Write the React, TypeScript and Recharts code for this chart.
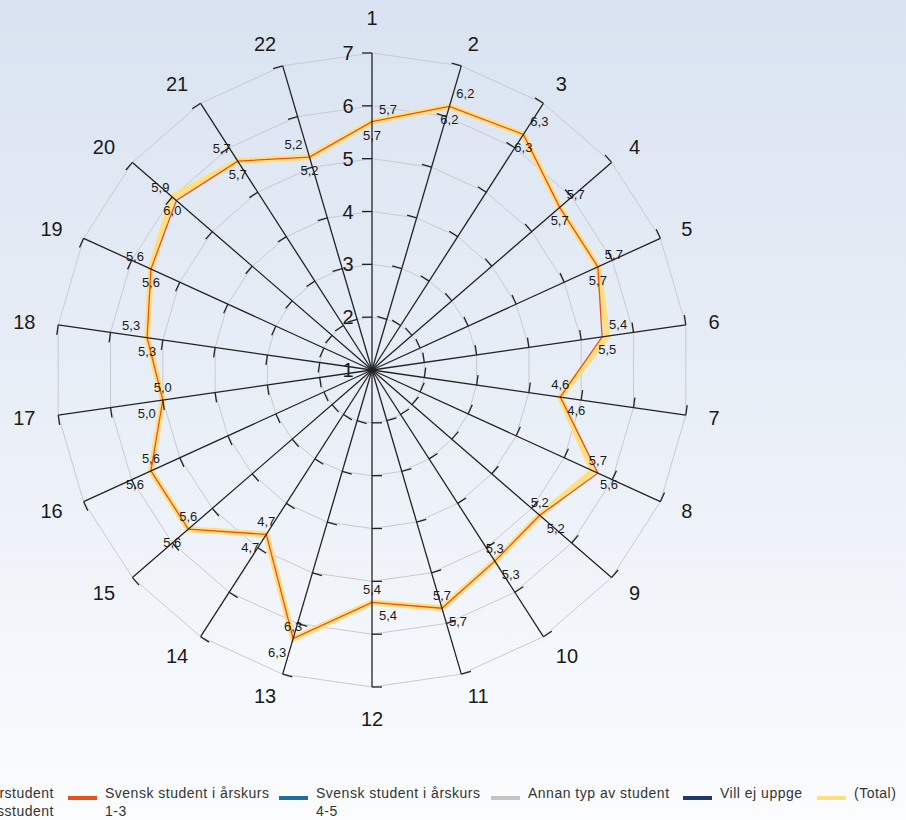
import React from 'react';
import { RadarChart, Radar, PolarGrid, PolarAngleAxis, PolarRadiusAxis } from 'recharts';

const categories = ['1', '2', '3', '4', '5', '6', '7', '8', '9', '10', '11', '12', '13', '14', '15', '16', '17', '18', '19', '20', '21', '22'];
const svenskStudent13 = [5.7, 6.2, 6.3, 5.7, 5.7, 5.4, 4.6, 5.7, 5.2, 5.3, 5.7, 5.4, 6.3, 4.7, 5.6, 5.6, 5.0, 5.3, 5.6, 5.9, 5.7, 5.2];
const totalValues = [5.7, 6.2, 6.3, 5.7, 5.7, 5.5, 4.6, 5.6, 5.2, 5.3, 5.7, 5.4, 6.3, 4.7, 5.6, 5.6, 5.0, 5.3, 5.6, 6.0, 5.7, 5.2];
const radiusDomain = [1, 7];
const radiusTicks = [1, 2, 3, 4, 5, 6, 7];

const legendItems = [
  { lines: ['Forskarstudent', 'Utbytesstudent'], color: '#7f7f7f', clipped: true },
  { lines: ['Svensk student i årskurs', '1-3'], color: '#e8501e' },
  { lines: ['Svensk student i årskurs', '4-5'], color: '#1f6f9c' },
  { lines: ['Annan typ av student'], color: '#c4c4c4' },
  { lines: ['Vill ej uppge'], color: '#1f3a6b' },
  { lines: ['(Total)'], color: '#ffdf80' },
];
const legendX = [-120, 68, 279, 491, 683, 817];

const CX = 372;
const CY = 370;
const OUTER = 317;

const data = categories.map((c, i) => ({ axis: c, s13: svenskStudent13[i], total: totalValues[i] }));

const FONT = '"Liberation Sans", Arial, sans-serif';
const fmt = (v: number) => v.toFixed(1).replace('.', ',');

const radiusTick = (props: any) => {
  const { x, y, payload } = props;
  const v = payload?.value;
  const n = categories.length;
  return (
    <g>
      {categories.map((c, k) => (
        <g key={c} transform={`rotate(${(k * 360) / n}, ${CX}, ${CY})`}>
          {v === radiusTicks[radiusTicks.length - 1] && k > 0 && (
            <line x1={CX} y1={CY} x2={x} y2={y} stroke="#222" strokeWidth={1.3} />
          )}
          {v !== radiusTicks[0] && <line x1={x - 10} y1={y} x2={x} y2={y} stroke="#222" strokeWidth={1.3} />}
        </g>
      ))}
      <text x={x - 24} y={y} textAnchor="middle" dominantBaseline="central" fontSize={20} fill="#1a1a1a" fontFamily={FONT}>
        {v}
      </text>
    </g>
  );
};

const angleTick = (props: any) => {
  const { x, y, payload } = props;
  const a = ((payload?.coordinate ?? 0) * Math.PI) / 180;
  const cos = Math.cos(a);
  const sin = Math.sin(a);
  let anchor = 'middle';
  if (cos > 0.01) anchor = 'start';
  else if (cos < -0.01) anchor = 'end';
  let ty = y;
  let baseline = 'central';
  if (Math.abs(cos) <= 0.01) {
    if (sin > 0) {
      ty = y - 5;
      baseline = 'auto';
    } else {
      ty = y + 2;
      baseline = 'hanging';
    }
  }
  return (
    <text x={x} y={ty} textAnchor={anchor} dominantBaseline={baseline} fontSize={20} fill="#1a1a1a" fontFamily={FONT}>
      {payload.value}
    </text>
  );
};

// upper: label above the point; shifted outward horizontally when point is in the upper half
const makeLabelDot = (arr: number[], upper: boolean) => (props: any) => {
  const { cx, cy, index, payload } = props;
  const v = typeof payload?.value === 'number' ? payload.value : arr[index];
  const side = cx >= CX - 0.5 ? 1 : -1;
  const topHalf = cy < CY;
  const shift = upper === topHalf ? 16 * side : 0;
  const dy = upper ? -8 : 18;
  return (
    <text key={`l-${index}`} x={cx + shift} y={cy + dy} textAnchor="middle" fontSize={13} fill="#1a1a1a" fontFamily={FONT}>
      {fmt(v)}
    </text>
  );
};

export default function App() {
  return (
    <div
      style={{
        position: 'absolute',
        left: 0,
        top: 0,
        width: 906,
        height: 820,
        overflow: 'hidden',
        background: 'linear-gradient(to bottom, #d9e3f1 0%, #e9eff7 50%, #fbfcfe 100%)',
      }}
    >
      <RadarChart width={906} height={760} data={data} cx={CX} cy={CY} outerRadius={OUTER} margin={{ top: 0, right: 0, bottom: 0, left: 0 }}>
        <PolarGrid gridType="polygon" radialLines={false} stroke="#c8cbd0" strokeWidth={1} />
        <PolarAngleAxis dataKey="axis" tickLine={false} axisLine={false} tickSize={23} tick={angleTick} />
        <PolarRadiusAxis
          angle={90}
          type="number"
          domain={radiusDomain}
          ticks={radiusTicks}
          tickCount={7}
          axisLine={{ stroke: '#222', strokeWidth: 1.3 }}
          tick={radiusTick}
        />
        <Radar
          dataKey="total"
          stroke="#ffdf80"
          strokeWidth={6}
          fill="none"
          fillOpacity={0}
          strokeLinejoin="round"
          dot={makeLabelDot(totalValues, false)}
          isAnimationActive={false}
        />
        <Radar
          dataKey="s13"
          stroke="#e8501e"
          strokeWidth={1.3}
          fill="none"
          fillOpacity={0}
          dot={makeLabelDot(svenskStudent13, true)}
          isAnimationActive={false}
        />
      </RadarChart>
      {legendItems.map((it, i) => (
        <div key={i} style={{ position: 'absolute', left: legendX[i], top: 784, display: 'flex', alignItems: 'flex-start', fontFamily: FONT, fontSize: 14, letterSpacing: 0.5, color: '#333', lineHeight: '18px' }}>
          <div style={{ width: 29, height: 4, background: it.color, marginTop: 12, marginRight: 8 }} />
          <div style={{ textAlign: it.clipped ? 'right' : 'left', width: it.clipped ? 137 : undefined }}>
            {it.lines.map((l, j) => (
              <div key={j} style={{ whiteSpace: 'nowrap' }}>{l}</div>
            ))}
          </div>
        </div>
      ))}
    </div>
  );
}
